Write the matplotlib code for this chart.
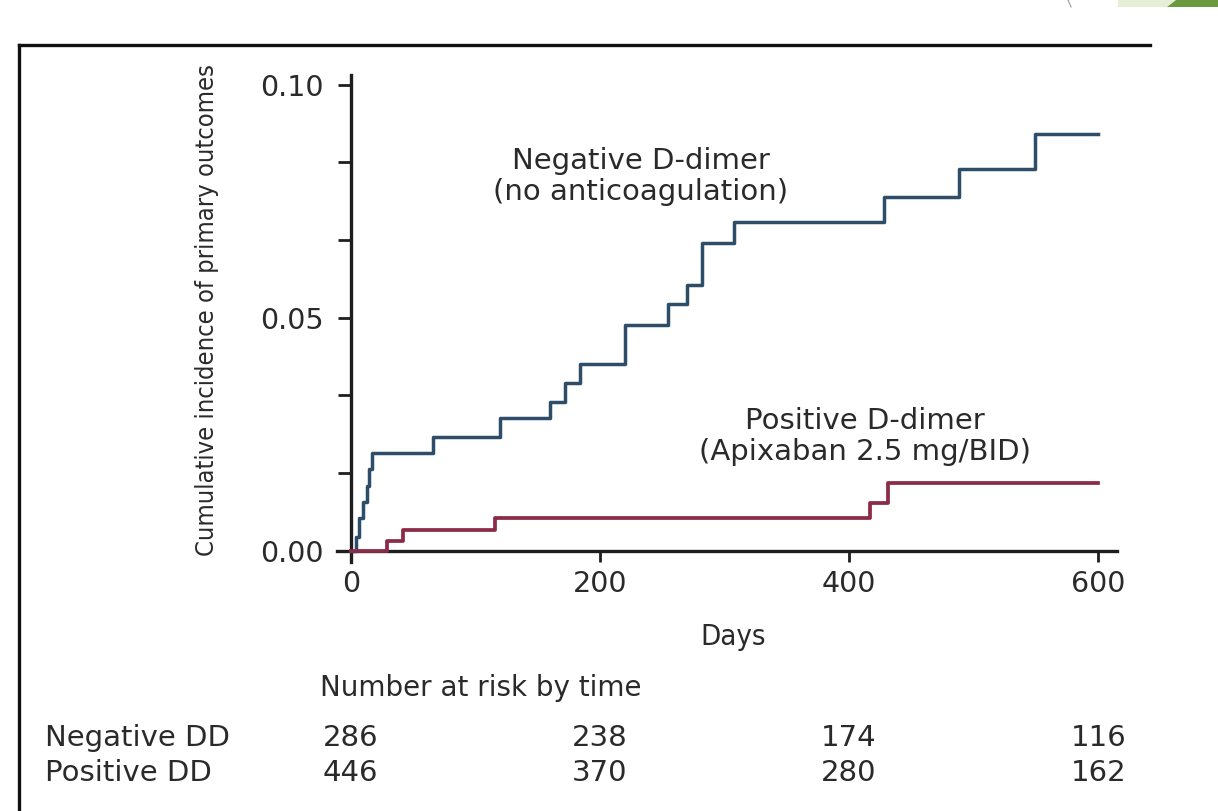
import numpy as np
import matplotlib
matplotlib.use("Agg")
import matplotlib.pyplot as plt
from matplotlib.lines import Line2D
from matplotlib.patches import Polygon
from matplotlib.ticker import FixedLocator
import matplotlib.transforms as mtransforms

# ---------------- data ----------------
neg_days = [0, 4, 7, 10, 13, 15, 17, 66, 120, 160, 172, 184, 220, 255, 270, 282, 308, 428, 488, 549, 600]
neg_vals = [0.0, 0.003, 0.007, 0.0105, 0.014, 0.0175, 0.021, 0.0245, 0.0285, 0.032, 0.036, 0.040,
            0.0485, 0.053, 0.057, 0.066, 0.0706, 0.076, 0.082, 0.0895, 0.0895]

pos_days = [0, 29, 42, 116, 417, 431, 600]
pos_vals = [0.0, 0.0022, 0.0045, 0.007, 0.0103, 0.0145, 0.0145]

x_ticks = [0, 200, 400, 600]
y_ticks = [0.00, 0.05, 0.10]
y_tick_labels = ["0.00", "0.05", "0.10"]

risk_times = [0, 200, 400, 600]
risk_negative = [286, 238, 174, 116]
risk_positive = [446, 370, 280, 162]
risk_rows = ["Negative DD", "Positive DD"]

neg_label = "Negative D-dimer\n(no anticoagulation)"
pos_label = "Positive D-dimer\n(Apixaban 2.5 mg/BID)"

# ---------------- style ----------------
W, H = 1218, 811
fig = plt.figure(figsize=(W / 100, H / 100), dpi=100)
fig.patch.set_facecolor("white")

txt_color = "#2a2a2a"
axis_color = "#1e1e1e"
blue = "#2e4d69"
red = "#8c2b48"
main_font = "DejaVu Sans"


def fx(px):
    return px / W


def fy(py):
    return 1 - py / H


# axes: spines span x pixels 337..1117, y pixels 75..562
ax = fig.add_axes([fx(337), fy(562), fx(1117) - fx(337), fy(75) - fy(562)])
ax.set_xlim(-11, 615)
ax.set_ylim(-0.0024, 0.1021)
ax.patch.set_alpha(0)

for s in ["top", "right"]:
    ax.spines[s].set_visible(False)
for s in ["left", "bottom"]:
    ax.spines[s].set_linewidth(2.4)
    ax.spines[s].set_color(axis_color)
ax.spines["left"].set_position(("data", 0))
ax.spines["bottom"].set_position(("data", 0))

ax.set_xticks(x_ticks)
ax.set_xticklabels([str(t) for t in x_ticks])
ax.set_yticks(y_ticks)
ax.set_yticklabels(y_tick_labels)
ax.yaxis.set_minor_locator(FixedLocator([0.05 / 3 * k for k in (1, 2, 4, 5)]))

ax.tick_params(axis="both", which="both", direction="out", color=axis_color,
               width=2.0, labelcolor=txt_color, labelsize=20.5)
ax.tick_params(axis="x", which="major", length=8, pad=6)
ax.tick_params(axis="y", which="both", length=9.5, pad=10)
for lab in ax.get_xticklabels() + ax.get_yticklabels():
    lab.set_family(main_font)

ax.step(neg_days, neg_vals, where="post", color=blue, lw=2.5, zorder=4, clip_on=False)
ax.step(pos_days, pos_vals, where="post", color=red, lw=2.7, zorder=4, clip_on=False)

ax.text(233, 0.0803, neg_label, ha="center", va="center", fontsize=21,
        family=main_font, color=txt_color, linespacing=1.15)
ax.text(413, 0.0246, pos_label, ha="center", va="center", fontsize=21,
        family=main_font, color=txt_color, linespacing=1.15)

# axis titles (condensed)
fig.text(fx(207), fy(310), "Cumulative incidence of primary outcomes", rotation=90,
         ha="center", va="center", fontsize=18.3, family=main_font,
         fontstretch="condensed", color=txt_color)
fig.text(fx(733), fy(637), "Days", ha="center", va="center", fontsize=21,
         family=main_font, fontstretch="condensed", color=txt_color)

# number at risk table
fig.text(fx(320), fy(688), "Number at risk by time", ha="left", va="center",
         fontsize=20, family=main_font, color=txt_color)
blend = mtransforms.blended_transform_factory(ax.transData, fig.transFigure)
row_y = [fy(738), fy(773)]
for label, vals, yy in zip(risk_rows, [risk_negative, risk_positive], row_y):
    fig.text(fx(45), yy, label, ha="left", va="center", fontsize=21,
             family=main_font, color=txt_color)
    for t, v in zip(risk_times, vals):
        ax.text(t, yy, str(v), transform=blend, ha="center", va="center",
                fontsize=21, family=main_font, color=txt_color, clip_on=False)

# outer frame lines
fig.add_artist(Line2D([fx(19), fx(1150)], [fy(45), fy(45)], color="#111111", lw=2.4,
                      transform=fig.transFigure))
fig.add_artist(Line2D([fx(19), fx(19)], [fy(45), fy(811)], color="#111111", lw=2.4,
                      transform=fig.transFigure))

# top-right decoration
fig.add_artist(Polygon([(fx(1118), fy(0)), (fx(1176), fy(0)), (fx(1167), fy(7)), (fx(1118), fy(7))],
                       closed=True, facecolor="#e4efd5", edgecolor="none", transform=fig.transFigure))
fig.add_artist(Polygon([(fx(1176), fy(0)), (fx(1218), fy(0)), (fx(1218), fy(7)), (fx(1167), fy(7))],
                       closed=True, facecolor="#6a9a3d", edgecolor="none", transform=fig.transFigure))
fig.add_artist(Line2D([fx(1068), fx(1071)], [fy(0), fy(7)], color="#9a9a9a", lw=0.8,
                      transform=fig.transFigure))

fig.savefig("out.png", dpi=100, facecolor="white")
